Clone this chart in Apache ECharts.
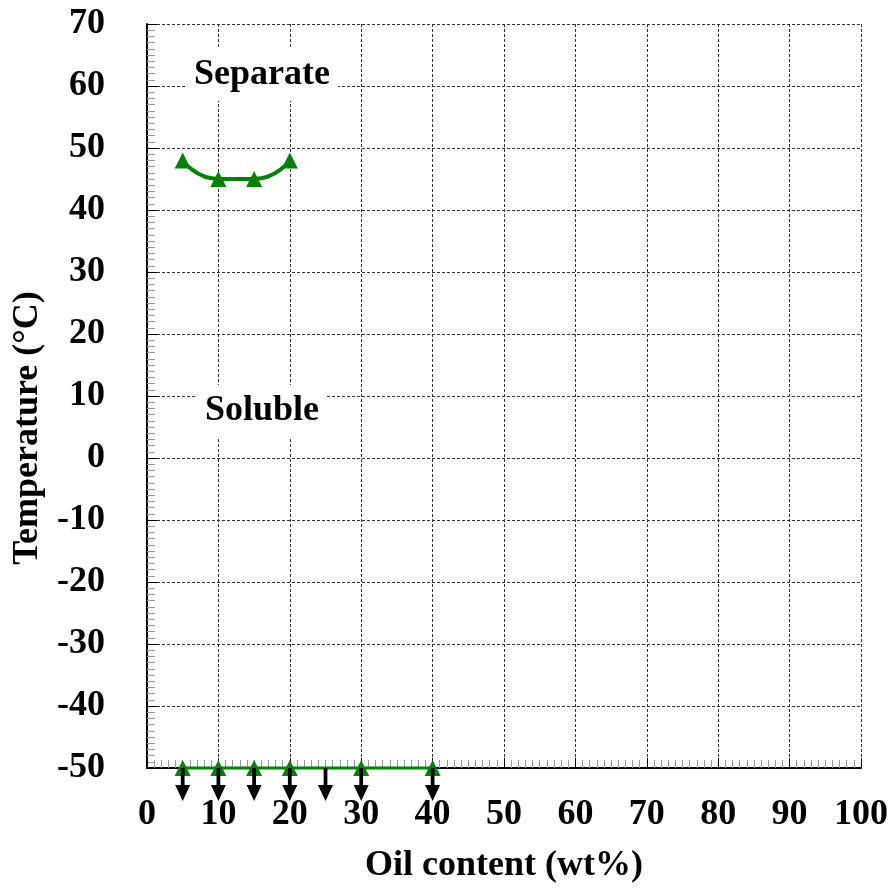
<!DOCTYPE html>
<html>
<head>
<meta charset="utf-8">
<script src="https://cdn.jsdelivr.net/npm/echarts@6/dist/echarts.min.js"></script>
<style>
html,body{margin:0;padding:0;background:#fff;}
#main{width:891px;height:888px;}
</style>
</head>
<body>
<div id="main"></div>
<script>
// phase boundary data
var sepOil = [5, 10, 15, 20];
var sepTemp = [48, 45, 45, 48];
var lowOil = [5, 10, 15, 20, 30, 40];
var lowTemp = [-50, -50, -50, -50, -50, -50];
var arrowOil = [5, 10, 15, 20, 25, 30, 40];
var arrowTemp = [-50, -50, -50, -50, -50, -50, -50];
var regionNames = ['Separate', 'Soluble'];
var regionPos = [[16.1, 61.8], [16.1, 7.6]];

function pairs(xs, ys) {
    var out = [];
    for (var i = 0; i < xs.length; i++) out.push([xs[i], ys[i]]);
    return out;
}

var font = 'Liberation Serif';
var green = '#008000';
var arrowPath = 'path://M6,0 L10,0 L10,17 L16,17 L8,33 L0,17 L6,17 Z';

var chart = echarts.init(document.getElementById('main'));
var option = {
    animation: false,
    grid: { left: 147, right: 30, top: 24, bottom: 120, outerBoundsMode: 'none', containLabel: false },
    xAxis: {
        type: 'value', min: 0, max: 100, interval: 10,
        name: 'Oil content (wt%)', nameLocation: 'middle', nameGap: 80,
        nameTextStyle: { fontFamily: font, fontWeight: 'bold', fontSize: 36, color: '#000' },
        axisLine: { onZero: false, lineStyle: { color: '#000', width: 2 } },
        axisTick: { inside: true, length: 10, lineStyle: { color: '#000' } },
        minorTick: { show: true, splitNumber: 10, length: 8, lineStyle: { color: '#999', width: 1 } },
        axisLabel: { fontFamily: font, fontWeight: 'bold', fontSize: 36, color: '#000', margin: 29 },
        splitLine: { show: true, lineStyle: { color: '#333', width: 1, type: [3, 2] } }
    },
    yAxis: {
        type: 'value', min: -50, max: 70, interval: 10,
        name: 'Temperature (°C)', nameLocation: 'middle', nameGap: 96, nameRotate: 90,
        nameTextStyle: { fontFamily: font, fontWeight: 'bold', fontSize: 36, color: '#000', padding: [0, 64, 0, 0] },
        axisLine: { show: true, onZero: false, lineStyle: { color: '#000', width: 2 } },
        axisTick: { show: true, inside: true, length: 10, lineStyle: { color: '#000' } },
        minorTick: { show: true, splitNumber: 10, length: 8, lineStyle: { color: '#999', width: 1 } },
        axisLabel: { fontFamily: font, fontWeight: 'bold', fontSize: 36, color: '#000', margin: 42 },
        splitLine: { show: true, lineStyle: { color: '#333', width: 1, type: [3, 2] } }
    },
    series: [
        {
            type: 'line', data: pairs(sepOil, sepTemp), smooth: 0.6,
            symbol: 'triangle', symbolSize: 16,
            lineStyle: { color: green, width: 4 },
            itemStyle: { color: green, opacity: 1 }, z: 5
        },
        {
            type: 'line', data: pairs(lowOil, lowTemp),
            symbol: 'triangle', symbolSize: 16,
            lineStyle: { color: green, width: 3 },
            itemStyle: { color: green, opacity: 1 }, clip: false, z: 5
        },
        {
            type: 'scatter', data: pairs(arrowOil, arrowTemp),
            symbol: arrowPath, symbolSize: [15, 33], symbolOffset: [0, 16.5],
            itemStyle: { color: '#000', opacity: 1 }, clip: false, z: 6
        },
        {
            type: 'scatter', symbolSize: 0, z: 4,
            itemStyle: { opacity: 1 },
            data: regionNames.map(function (n, i) {
                return { name: n, value: regionPos[i] };
            }),
            label: {
                show: true, position: 'inside', formatter: '{b}',
                fontFamily: font, fontWeight: 'bold', fontSize: 36, color: '#000',
                backgroundColor: '#fff', padding: [8, 8]
            }
        }
    ]
};
chart.setOption(option);
</script>
</body>
</html>
